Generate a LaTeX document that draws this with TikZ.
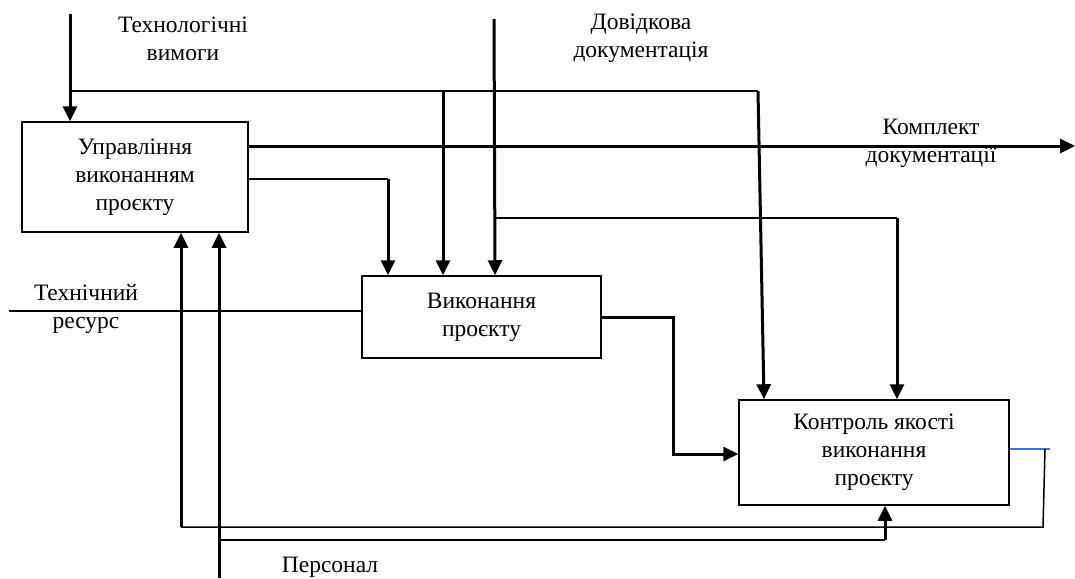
\documentclass[tikz,border=0pt]{standalone}
\usepackage{fontspec}
\setmainfont{Liberation Serif}
\usetikzlibrary{arrows.meta}
\definecolor{fbblue}{HTML}{4472C4}
\begin{document}
\begin{tikzpicture}[x=1pt,y=-1pt,
  every node/.style={font=\fontsize{23.5}{28}\selectfont, align=center, inner sep=0pt},
  box/.style={draw, line width=1.5pt},
  thick line/.style={line width=3pt},
  thin line/.style={line width=1.5pt},
  arr/.style={-{Triangle[length=15pt,width=14pt]}}]
\useasboundingbox (0,0) rectangle (1075,578);

% boxes
\node[box, minimum width=226pt, minimum height=110pt] (A) at (135,177) {Управління\\виконанням\\проєкту};
\node[box, minimum width=239pt, minimum height=82pt] (B) at (481.5,317) {Виконання\\проєкту};
\node[box, minimum width=270pt, minimum height=105pt] (C) at (874,452.5) {Контроль якості\\виконання\\проєкту};

% labels
\node (Ltech) at (183,39) {Технологічні\\вимоги};
\node (Ldov) at (641,38) {Довідкова\\документація};
\node (Lkompl) at (931,143) {Комплект\\документації};
\node (Lres) at (86,309) {Технічний\\ресурс};
\node (Lpers) at (330,567) {Персонал};

% coordinates
\coordinate (t0) at (70,14);
\coordinate (t1) at (70,91);
\coordinate (t2) at (443,91);
\coordinate (t3) at (758,91);
\coordinate (d0) at (494,19);
\coordinate (d1) at (495,218);
\coordinate (d2) at (897,218);
\coordinate (aout) at (A.east |- 0,146);
\coordinate (oend) at (1075,146);
\coordinate (ab1) at (A.east |- 0,179);
\coordinate (ab2) at (388,179);
\coordinate (r0) at (9,311);
\coordinate (bc0) at (B.east |- 0,317);
\coordinate (bc1) at (673,317);
\coordinate (bc2) at (673,454);
\coordinate (f0) at (C.east |- 0,449);
\coordinate (f1) at (1045,449);
\coordinate (f1e) at (1050,449);
\coordinate (f2) at (1043,527);
\coordinate (f3) at (181,527);
\coordinate (p0) at (219,578);
\coordinate (p1) at (219,540);
\coordinate (p2) at (885,540);

% Технологічні вимоги
\draw[thick line, arr] (t0) -- (t0 |- A.north);
\draw[thin line] (t1) -- (t3);
\draw[thick line, arr] (t2) -- (t2 |- B.north);
\draw[thick line, arr] (t3) -- (764,91 |- C.north);

% Довідкова документація
\draw[thick line, arr] (d0) -- (d1 |- B.north);
\draw[thin line] (d1) -- (d2);
\draw[thick line, arr] (d2) -- (d2 |- C.north);

% output
\draw[thick line, arr] (aout) -- (oend);

% A -> B
\draw[line width=2pt] (ab1) -- (ab2);
\draw[thick line, arr] (ab2) -- (ab2 |- B.north);

% resource
\draw[thin line] (r0) -- (B.west |- r0);

% B -> C
\draw[thick line, arr] (bc0) -- (bc1) -- (bc2) -- (C.west |- bc2);

% feedback
\draw[fbblue, line width=1.2pt] (f0) -- (f1e);
\draw[thin line] (f1) -- (f2) -- (f3);
\draw[thick line, arr] (f3) -- (f3 |- A.south);

% personnel
\draw[thick line, arr] (p0) -- (p0 |- A.south);
\draw[thin line] (p1) -- (p2);
\draw[thick line, arr] (p2) -- (p2 |- C.south);
\end{tikzpicture}
\end{document}
